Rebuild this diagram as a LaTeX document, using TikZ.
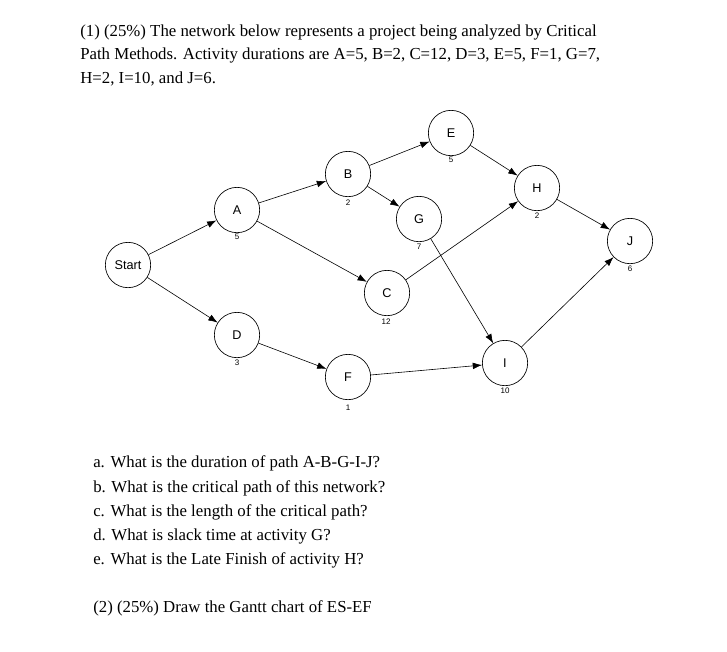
\documentclass[tikz,border=0pt]{standalone}
\usepackage{fontspec}
\setmainfont{Liberation Serif}
\newfontfamily\arialf{Liberation Sans}
\usetikzlibrary{arrows.meta}
\begin{document}
\begin{tikzpicture}[x=0.75pt,y=-0.75pt,
  act/.style={circle,draw,line width=0.5pt,minimum size=34pt,inner sep=0pt,font=\arialf\fontsize{9.5}{11}\selectfont},
  dur/.style={font=\arialf\fontsize{6}{7}\selectfont,inner sep=0pt},
  con/.style={draw,line width=0.45pt,-{Latex[length=7pt,width=5pt]}},
  txt/.style={anchor=west,inner sep=0pt,font=\fontsize{12.6}{14}\selectfont}]
\useasboundingbox (0,0) rectangle (727,651);
\node[txt] (t1) at (80,32) {(1) (25\%) The network below represents a project being analyzed by Critical};
\node[txt] (t2) at (80,55) {Path Methods. Activity durations are A=5, B=2, C=12, D=3, E=5, F=1, G=7,};
\node[txt] (t3) at (80,79) {H=2, I=10, and J=6.};
\node[act] (S) at (128,265) {Start};
\node[act] (A) at (237,210) {A};
\node[act] (B) at (348,174) {B};
\node[act] (E) at (451,133) {E};
\node[act] (G) at (419,219) {G};
\node[act] (C) at (387,293) {C};
\node[act] (H) at (537,188) {H};
\node[act] (J) at (630,241) {J};
\node[act] (D) at (237,335) {D};
\node[act] (F) at (348,377) {F};
\node[act] (I) at (505,363) {I};
\node[dur] (nA) at (237,237) {5};
\node[dur] (nB) at (348,203) {2};
\node[dur] (nE) at (451,160) {5};
\node[dur] (nG) at (419,247) {7};
\node[dur] (nC) at (386,322) {12};
\node[dur] (nH) at (537,216) {2};
\node[dur] (nJ) at (630,269) {6};
\node[dur] (nD) at (237,363) {3};
\node[dur] (nF) at (348,408) {1};
\node[dur] (nI) at (505,391) {10};
\path[con] (S) -- (A);
\path[con] (S) -- (D);
\path[con] (A) -- (B);
\path[con] (A) -- (C);
\path[con] (B) -- (E);
\path[con] (B) -- (G);
\path[con] (E) -- (H);
\path[con] (C) -- (H);
\path[con] (G) -- (I);
\path[con] (H) -- (J);
\path[con] (I) -- (J);
\path[con] (D) -- (F);
\path[con] (F) -- (I);
\node[txt] (qa) at (93,463) {a. What is the duration of path A-B-G-I-J?};
\node[txt] (qb) at (93,488) {b. What is the critical path of this network?};
\node[txt] (qc) at (93,512) {c. What is the length of the critical path?};
\node[txt] (qd) at (93,536) {d. What is slack time at activity G?};
\node[txt] (qe) at (93,560) {e. What is the Late Finish of activity H?};
\node[txt] (q2) at (93,608) {(2) (25\%) Draw the Gantt chart of ES-EF};
\end{tikzpicture}
\end{document}
